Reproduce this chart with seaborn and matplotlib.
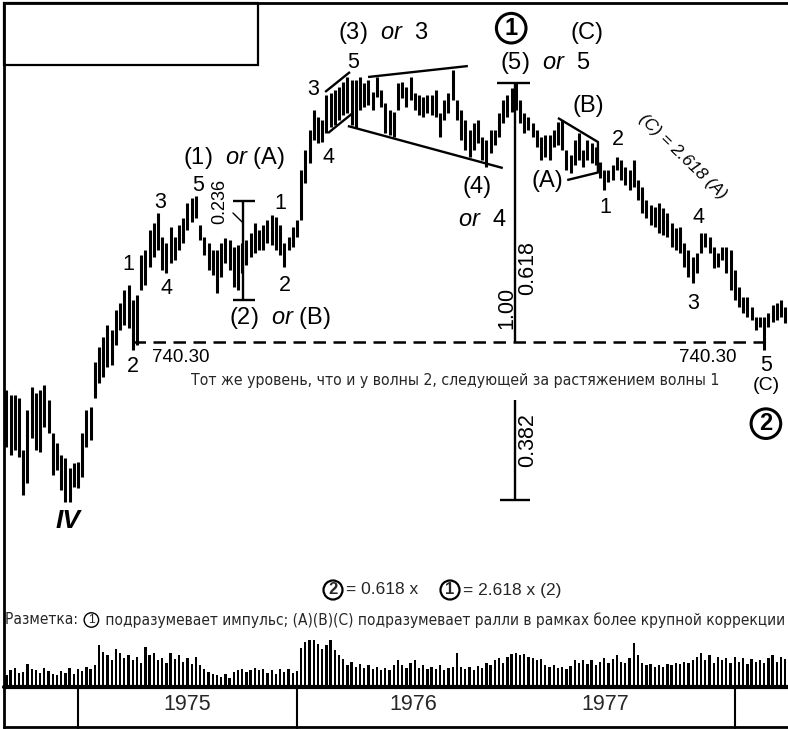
import os
import numpy as np
import matplotlib
matplotlib.use('Agg')
import matplotlib.pyplot as plt
from matplotlib import font_manager
from matplotlib.font_manager import FontProperties
from matplotlib.ft2font import FT2Font
from matplotlib.lines import Line2D
from matplotlib.patches import Rectangle
import seaborn as sns

# weekly bars, week 0 = first week of 1975
weeks = np.arange(-17, 169)
highs = [690, 684, 684, 681, 626, 668, 693, 686, 690, 695, 679, 644, 634, 621, 618, 607, 612,
         613, 644, 668, 672, 719, 735, 746, 758, 753, 774, 782, 795, 801, 785, 790, 832, 838,
         859, 866, 877, 851, 845, 862, 851, 864, 871, 887, 893, 895, 864, 851, 845, 838, 838,
         845, 850, 848, 841, 843, 845, 848, 856, 866, 859, 864, 869, 875, 872, 864, 845, 851,
         862, 869, 922, 943, 964, 986, 978, 975, 1001, 1003, 1007, 1010, 1015, 1020, 1017, 1017,
         1020, 1014, 1017, 1005, 1020, 1007, 993, 986, 983, 1014, 1015, 1010, 1020, 1003, 1001,
         999, 1001, 1001, 1007, 982, 996, 1003, 1028, 996, 986, 975, 964, 972, 975, 957, 954,
         964, 964, 982, 996, 1001, 1009, 1014, 996, 982, 978, 972, 964, 957, 959, 959, 964, 973,
         975, 943, 938, 954, 961, 943, 954, 951, 946, 931, 922, 922, 927, 936, 933, 925, 922,
         933, 912, 904, 890, 885, 883, 887, 882, 877, 866, 861, 862, 845, 838, 830, 834, 856,
         856, 851, 841, 834, 841, 841, 838, 816, 798, 788, 788, 777, 767, 767, 767, 771, 779,
         782, 785, 777]
lows = [629, 621, 626, 619, 579, 591, 639, 626, 624, 650, 644, 600, 605, 584, 571, 571, 587,
        586, 598, 629, 637, 681, 697, 703, 714, 716, 737, 753, 758, 755, 732, 737, 795, 801,
        820, 830, 838, 816, 813, 824, 827, 838, 845, 859, 867, 871, 848, 832, 816, 811, 792,
        809, 824, 816, 798, 795, 813, 822, 830, 834, 838, 838, 845, 843, 838, 832, 820, 838,
        841, 851, 869, 908, 930, 954, 951, 952, 961, 968, 970, 975, 980, 982, 970, 967, 986,
        989, 991, 986, 999, 989, 961, 959, 957, 986, 998, 989, 996, 986, 980, 978, 982, 980,
        978, 957, 975, 982, 996, 975, 954, 943, 936, 943, 951, 933, 925, 940, 949, 957, 972,
        978, 983, 986, 972, 961, 964, 957, 946, 933, 936, 933, 946, 949, 943, 922, 919, 927,
        933, 925, 933, 930, 927, 914, 901, 909, 912, 922, 912, 906, 901, 904, 890, 877, 871,
        864, 862, 856, 853, 851, 841, 838, 834, 820, 809, 803, 813, 834, 841, 834, 818, 820,
        827, 813, 795, 785, 777, 771, 767, 764, 753, 756, 732, 756, 761, 764, 767, 760]
volume = [8.8, 12.9, 15.0, 10.8, 11.7, 18.3, 14.2, 12.9, 10.8, 15.0, 12.5, 10.0, 8.8, 12.5, 10.8,
          15.0, 10.0, 14.2, 12.5, 15.8, 14.2, 17.1, 33.7, 28.3, 25.4, 21.2, 30.8, 27.5, 23.3,
          25.4, 21.2, 24.2, 19.2, 32.5, 25.4, 27.5, 21.2, 23.3, 19.2, 27.5, 22.5, 25.4, 20.0,
          23.3, 18.3, 24.2, 17.1, 14.2, 11.7, 10.0, 8.8, 7.5, 10.0, 6.7, 11.7, 12.9, 14.2, 11.7,
          13.3, 15.0, 12.9, 14.2, 10.8, 13.3, 10.0, 14.2, 11.7, 14.2, 10.8, 12.5, 31.7, 36.7,
          39.2, 37.9, 35.0, 30.8, 33.7, 40.0, 29.6, 25.4, 22.5, 17.1, 20.0, 15.8, 18.3, 15.0,
          17.1, 14.2, 15.8, 12.9, 15.0, 13.3, 17.1, 21.2, 17.1, 15.0, 19.2, 21.2, 15.0, 17.1,
          14.2, 15.8, 14.2, 17.1, 13.3, 15.0, 15.8, 27.5, 15.8, 14.2, 15.8, 13.3, 16.7, 15.0,
          19.2, 17.1, 21.2, 23.3, 19.2, 24.2, 26.7, 27.5, 25.4, 26.7, 24.2, 23.3, 21.2, 22.5,
          17.1, 15.8, 17.1, 15.0, 15.8, 14.2, 16.7, 21.2, 19.2, 21.2, 18.3, 21.2, 17.1, 20.0,
          23.3, 19.2, 22.5, 25.4, 20.0, 19.2, 23.3, 35.8, 25.4, 19.2, 17.1, 18.3, 15.8, 17.1,
          15.8, 18.3, 17.1, 19.2, 18.3, 20.0, 19.2, 21.2, 24.2, 27.5, 21.2, 25.4, 19.2, 24.2,
          21.2, 23.3, 19.2, 24.2, 20.0, 23.3, 18.3, 22.5, 20.0, 21.2, 19.2, 23.3, 25.4, 20.0,
          24.2, 22.5]
year_labels = ['1975', '1976', '1977']
year_label_pos = [26, 79.6, 125.2]
year_edges = [0, 52, 156]
support = 740.30

note1 = 'Тот же уровень, что и у волны 2, следующей за растяжением волны 1'
note2a = 'Разметка: '
note2b = ' подразумевает импульс; (A)(B)(C) подразумевает ралли в рамках более крупной коррекции'

sns.set_theme(style='white')
plt.rcParams['font.family'] = ['Liberation Sans', 'DejaVu Sans']
plt.rcParams['mathtext.fontset'] = 'custom'
plt.rcParams['mathtext.rm'] = 'Liberation Sans'
plt.rcParams['mathtext.it'] = 'Liberation Sans:italic'

W, H = 788, 729
pxw = 4.21          # pixels per week
x0 = 78             # pixel of week 0
xlim = (-x0 / pxw, (W - x0) / pxw)
fig = plt.figure(figsize=(W / 100, H / 100), dpi=100)
fig.patch.set_facecolor('white')
r = fig.canvas.get_renderer()

def fx(p):
    return p / W

def fy(p):
    return 1 - p / H

def wpx(t):
    return t.get_window_extent(renderer=r).width

def hpx(t):
    return t.get_window_extent(renderer=r).height


# narrow sans face with Cyrillic for the long notes; among those found, take the
# one whose capitals come closest to the scan once the line is fitted to width
def has_cyr(path):
    try:
        return FT2Font(path).get_char_index(ord('ж')) != 0
    except Exception:
        return False

paths = []
for f in font_manager.fontManager.ttflist:
    key = (f.name + os.path.basename(f.fname)).lower().replace(' ', '').replace('-', '')
    if f.style != 'normal' or 'mono' in key or 'serif' in key:
        continue
    if not ('narrow' in key or 'condensed' in key):
        continue
    if any(b in key for b in ('bold', 'light', 'thin', 'black', 'medium', 'italic')):
        continue
    if f.fname in paths or not has_cyr(f.fname):
        continue
    paths.append(f.fname)

best = None
for p in paths:
    fp = FontProperties(fname=p, size=12)
    t = fig.text(0, 0, note1, fontproperties=fp)
    size = 12 * 530 / wpx(t)
    t.remove()
    fp.set_size(size)
    t = fig.text(0, 0, 'НТН', fontproperties=fp)
    cap = hpx(t)
    t.remove()
    score = abs(cap - 12.5)
    if best is None or score < best[0]:
        best = (score, p)

def fpn(size):
    if best is not None:
        return FontProperties(fname=best[1], size=size)
    return FontProperties(family='Liberation Sans', size=size)

# ---- volume -------------------------------------------------------------
axv = fig.add_axes([0, fy(686), 1, 46 / H])
sns.barplot(x=weeks, y=volume, native_scale=True, color='black', width=0.55,
            errorbar=None, linewidth=0, saturation=1, ax=axv)
axv.set_xlim(*xlim)
axv.set_ylim(0, 38)
axv.axis('off')

# ---- year row -----------------------------------------------------------
axy = fig.add_axes([0, 0, 1, (H - 688) / H])
axy.set_xlim(*xlim)
axy.set_ylim(0, 1)
axy.axis('off')
for e in year_edges:
    axy.plot([e, e], [0.03, 1], color='black', lw=1.5)
for lab_, p in zip(year_labels, year_label_pos):
    axy.text(p, 0.6, lab_, ha='center', va='center', fontsize=15.5)

# ---- price --------------------------------------------------------------
ax = fig.add_axes([0, 0, 1, 1])
ax.patch.set_visible(False)
ax.set_xlim(*xlim)
ax.set_ylim(1101.8 - 1.057 * H, 1101.8)
ax.axis('off')
ax.vlines(weeks, lows, highs, color='black', lw=2.2)

k = dict(color='black', lw=1.7, solid_capstyle='butt')
ax.plot([13.1, 163.2], [support, support], color='black', lw=1.8, ls=(0, (5, 3)))
# wave 3-5 channel
ax.plot([58.7, 64.6], [1004.6, 1025.7], **k)
ax.plot([59.4, 65.3], [961.2, 982.4], **k)
# triangle (4)
ax.plot([68.9, 92.6], [1020.4, 1032.0], **k)
ax.plot([64.1, 100.9], [968.6, 924.2], **k)
# triangle (B)
ax.plot([114.0, 123.5, 123.5], [977.1, 951.7, 920.0], **k)
ax.plot([116.2, 124.0], [911.5, 920.0], **k)
# fib ruler
ax.plot([99.5, 107.4], [1014, 1014], **k)
ax.plot([103.8, 103.8], [1014, support], **k)
ax.plot([103.8, 103.8], [679, 573], **k)
ax.plot([100.2, 107.4], [573, 573], **k)
# (2) bracket
ax.plot([39.2, 39.2], [889, 785], **k)
ax.plot([36.8, 42.0], [889, 889], **k)
ax.plot([36.8, 42.0], [785, 785], **k)
ax.plot([36.8, 39.0], [876.7, 867.1], color='black', lw=1.0)

big = 17
small = 15.5
def lab(x, y, s, fs=small, **kw):
    ax.text(x, y, s, ha='center', va='center', fontsize=fs, color='black', **kw)

lab(72.4, 1067, r'(3)  $\mathit{or}$  3', big)
lab(121.0, 1067, '(C)', big)
lab(111.0, 1035, r'(5)  $\mathit{or}$  5', big)
lab(37.1, 935, r'(1)  $\mathit{or}$ (A)', big)
lab(48.0, 766, r'(2)  $\mathit{or}$ (B)', big)
lab(94.8, 904, '(4)', big)
lab(96.0, 869, r'$\mathit{or}$  4', big)
lab(111.4, 910, '(A)', big)
lab(121.1, 990, '(B)', big)
for x, y, s in [(19.5, 888, '3'), (28.5, 906, '5'), (11.9, 822, '1'), (21.1, 797, '4'),
                (13.1, 714, '2'), (48.0, 887, '1'), (49.2, 800, '2'), (55.8, 1007, '3'),
                (59.4, 935, '4'), (65.3, 1036, '5'), (125.2, 882, '1'), (128.3, 954, '2'),
                (147.3, 872, '4'), (146.1, 781, '3'), (163.4, 715, '5')]:
    lab(x, y, s)
lab(163.4, 694, '(C)', 14)
lab(24.5, 724, '740.30', 13.5)
lab(149.6, 724, '740.30', 13.5)
lab(143.7, 936, '(C) = 2.618 (A)', 12.5, rotation=-44, style='italic')
lab(33.7, 889, '0.236', 13, rotation=90)
lab(106.9, 818, '0.618', small, rotation=90)
lab(101.9, 776, '1.00', small, rotation=90)
lab(106.9, 637, '0.382', small, rotation=90)
lab(-2.4, 551, 'IV', 19, weight='bold', style='italic')
circ = dict(boxstyle='circle,pad=0.14', fc='white', ec='black', lw=2.2)
lab(102.9, 1072, '1', 17, weight='bold', bbox=circ)
lab(163.4, 654, '2', 17, weight='bold', bbox=circ)

# ---- notes --------------------------------------------------------------
t1 = fig.text(fx(455), fy(381), note1, ha='center', va='center', fontproperties=fpn(12))
t1.set_fontsize(12 * 530 / wpx(t1))

fs0 = 12
tA = fig.text(fx(5), fy(620), note2a, ha='left', va='center', fontproperties=fpn(fs0))
tB = fig.text(fx(5), fy(620), note2b, ha='left', va='center', fontproperties=fpn(fs0))
cw = 1.25 * fs0 * 100 / 72
s = 777 / (wpx(tA) + wpx(tB) + cw)
wa = wpx(tA) * s
cw *= s
tA.set_fontsize(fs0 * s)
tB.set_fontsize(fs0 * s)
tB.set_x(fx(5 + wa + cw))
circ_t = dict(boxstyle='circle,pad=0.1', fc='white', ec='black', lw=1.0)
fig.text(fx(5 + wa + cw / 2), fy(620), '1', ha='center', va='center', fontsize=fs0 * s * 0.8,
         bbox=circ_t)

circ2 = dict(boxstyle='circle,pad=0.12', fc='white', ec='black', lw=1.6)
fig.text(fx(333), fy(590), '2', ha='center', va='center', fontsize=12, weight='bold', bbox=circ2)
fig.text(fx(346), fy(590), '= 0.618 x', ha='left', va='center', fontsize=12.5)
fig.text(fx(450), fy(590), '1', ha='center', va='center', fontsize=12, weight='bold', bbox=circ2)
fig.text(fx(463), fy(590), '= 2.618 x (2)', ha='left', va='center', fontsize=12.5)

# ---- frame --------------------------------------------------------------
def fline(xs, ys, lw=2.0):
    fig.add_artist(Line2D([fx(v) for v in xs], [fy(v) for v in ys], color='black', lw=lw,
                          transform=fig.transFigure))

fline([4, W], [3, 3])
fline([4, 4], [3, 728])
fline([4, W], [727, 727])
fline([4, W], [686.5, 686.5], lw=3.0)
fig.add_artist(Rectangle((fx(4), fy(65)), fx(254), 62 / H, fill=False, ec='black', lw=1.6,
                         transform=fig.transFigure))

fig.savefig('out.png', dpi=100)
